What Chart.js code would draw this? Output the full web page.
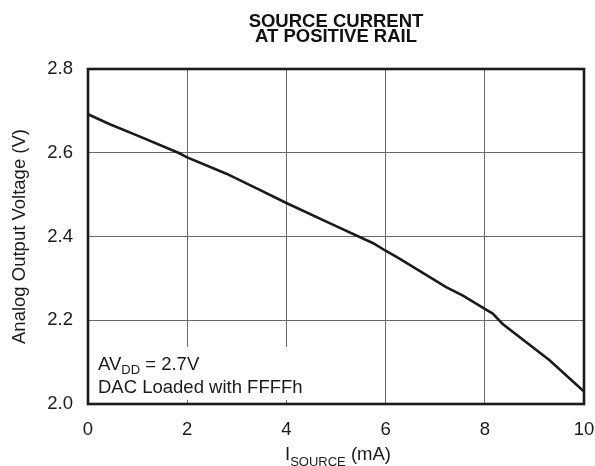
<!DOCTYPE html>
<html>
<head>
<meta charset="utf-8">
<script src="https://cdn.jsdelivr.net/npm/chart.js@4/dist/chart.umd.min.js"></script>
<style>
  html, body { margin: 0; padding: 0; background: #fff; }
  #wrap { width: 595px; height: 466px; }
</style>
</head>
<body>
<div id="wrap"><canvas id="c" width="595" height="466"></canvas></div>
<script>
// Data
const currentMA = [0, 0.44, 1.0, 1.82, 2.0, 2.79, 3.4, 4.0, 4.87, 5.75, 6.0, 6.28, 7.22, 7.56, 8.0, 8.16, 8.36, 9.30, 10.0];
const voltageV  = [2.692, 2.668, 2.641, 2.600, 2.589, 2.550, 2.515, 2.480, 2.432, 2.384, 2.366, 2.347, 2.279, 2.259, 2.227, 2.216, 2.191, 2.105, 2.030];
const xTicks = [0, 2, 4, 6, 8, 10];
const yTicks = [2.0, 2.2, 2.4, 2.6, 2.8];
const titleLines = ['SOURCE CURRENT', 'AT POSITIVE RAIL'];
const yTitle = 'Analog Output Voltage (V)';
const xTitle = { main: 'I', sub: 'SOURCE', rest: ' (mA)' };
const note1 = { main: 'AV', sub: 'DD', rest: ' = 2.7V' };
const note2 = 'DAC Loaded with FFFFh';

const points = currentMA.map((x, i) => ({ x: x, y: voltageV[i] }));
const FONT = '"Liberation Sans", Arial, Helvetica, sans-serif';
const FS = 18.5;
const SUB = 13;

const textPlugin = {
  id: 'textPlugin',
  afterDatasetsDraw(chart) {
    const ctx = chart.ctx;
    const a = chart.chartArea;
    ctx.save();
    ctx.fillStyle = '#fff';
    ctx.fillRect(a.left + 1, 347, 222, 53);
    ctx.fillStyle = '#1a1a1a';
    ctx.textBaseline = 'alphabetic';
    ctx.textAlign = 'left';
    let x = 98;
    ctx.font = FS + 'px ' + FONT;
    ctx.fillText(note1.main, x, 370);
    x += ctx.measureText(note1.main).width;
    ctx.font = SUB + 'px ' + FONT;
    ctx.fillText(note1.sub, x, 374);
    x += ctx.measureText(note1.sub).width;
    ctx.font = FS + 'px ' + FONT;
    ctx.fillText(note1.rest, x, 370);
    ctx.fillText(note2, 98, 393);
    ctx.restore();
  },
  afterDraw(chart) {
    const ctx = chart.ctx;
    const a = chart.chartArea;
    ctx.save();
    ctx.strokeStyle = '#1a1a1a';
    ctx.lineWidth = 2.6;
    ctx.strokeRect(a.left, a.top, a.right - a.left, a.bottom - a.top);
    ctx.fillStyle = '#111';
    ctx.textAlign = 'center';
    ctx.textBaseline = 'alphabetic';
    ctx.font = 'bold ' + FS + 'px ' + FONT;
    const cx = (a.left + a.right) / 2;
    ctx.fillText(titleLines[0], cx, 27);
    ctx.fillText(titleLines[1], cx, 42);
    ctx.save();
    ctx.translate(25, (a.top + a.bottom) / 2);
    ctx.rotate(-Math.PI / 2);
    ctx.font = FS + 'px ' + FONT;
    ctx.fillStyle = '#1a1a1a';
    ctx.fillText(yTitle, 0, 0);
    ctx.restore();
    ctx.textAlign = 'left';
    ctx.fillStyle = '#1a1a1a';
    ctx.font = FS + 'px ' + FONT;
    const w1 = ctx.measureText(xTitle.main).width;
    const w3 = ctx.measureText(xTitle.rest).width;
    ctx.font = SUB + 'px ' + FONT;
    const w2 = ctx.measureText(xTitle.sub).width;
    let x = 338 - (w1 + w2 + w3) / 2;
    ctx.font = FS + 'px ' + FONT;
    ctx.fillText(xTitle.main, x, 460);
    x += w1;
    ctx.font = SUB + 'px ' + FONT;
    ctx.fillText(xTitle.sub, x, 466);
    x += w2;
    ctx.font = FS + 'px ' + FONT;
    ctx.fillText(xTitle.rest, x, 460);
    ctx.restore();
  }
};

new Chart(document.getElementById('c'), {
  type: 'scatter',
  data: {
    datasets: [{
      data: points,
      showLine: true,
      borderColor: '#1a1a1a',
      borderWidth: 2.6,
      pointRadius: 0,
      tension: 0,
      fill: false
    }]
  },
  options: {
    responsive: false,
    animation: false,
    layout: { padding: { top: 69, right: 11, left: 0, bottom: 0 } },
    plugins: { legend: { display: false }, tooltip: { enabled: false }, title: { display: false } },
    scales: {
      x: {
        type: 'linear',
        min: 0, max: 10,
        afterBuildTicks: (s) => { s.ticks = xTicks.map(v => ({ value: v })); },
        afterFit: (s) => { s.height = 62; s.paddingLeft = 0; s.paddingRight = 0; },
        ticks: { font: { family: FONT, size: FS }, color: '#1a1a1a', padding: 15, maxRotation: 0 },
        grid: { color: '#6a6a6a', lineWidth: 1, drawTicks: false },
        border: { display: false }
      },
      y: {
        type: 'linear',
        min: 2.0, max: 2.8,
        afterBuildTicks: (s) => { s.ticks = yTicks.map(v => ({ value: v })); },
        afterFit: (s) => { s.width = 88; s.paddingTop = 0; s.paddingBottom = 0; },
        ticks: { font: { family: FONT, size: FS }, color: '#1a1a1a', padding: 15, callback: (v) => Number(v).toFixed(1) },
        grid: { color: '#6a6a6a', lineWidth: 1, drawTicks: false },
        border: { display: false }
      }
    }
  },
  plugins: [textPlugin]
});
</script>
</body>
</html>
